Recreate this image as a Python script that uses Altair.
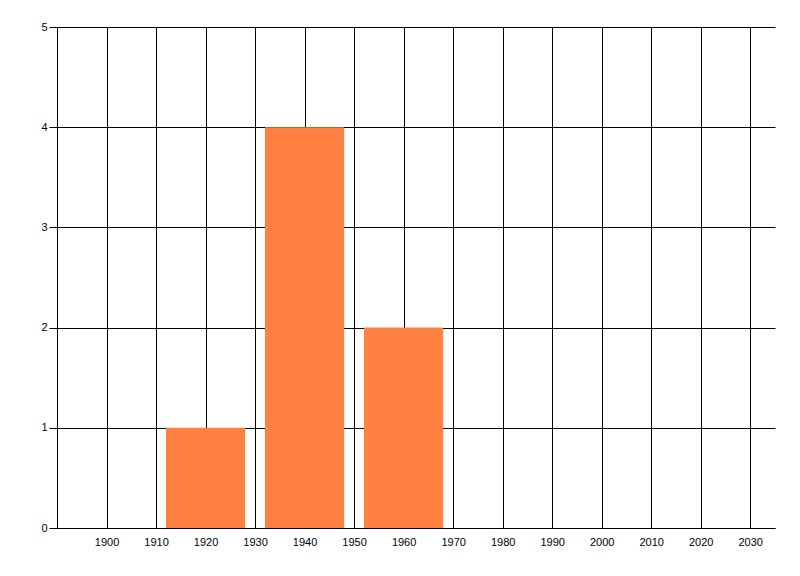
import altair as alt
import pandas as pd

years = [1920, 1940, 1960]
counts = [1, 4, 2]
x_ticks = [1900, 1910, 1920, 1930, 1940, 1950, 1960, 1970, 1980, 1990, 2000, 2010, 2020, 2030]
y_ticks = [0, 1, 2, 3, 4, 5]

df = pd.DataFrame({"year": years, "count": counts})

bars = alt.Chart(df).transform_calculate(
    start="datum.year - 8", end="datum.year + 8"
).mark_rect(color="#FF8040").encode(
    x=alt.X("start:Q", scale=alt.Scale(domain=[1890, 2035], nice=False, zero=False),
            axis=alt.Axis(values=x_ticks, format="d", title=None, ticks=False,
                          domainColor="black", gridColor="black", gridOpacity=1,
                          labelColor="black", labelFont="Liberation Sans", labelFontSize=11,
                          labelPadding=8, labelFlush=False)),
    x2="end:Q",
    y=alt.Y("count:Q", scale=alt.Scale(domain=[0, 5], nice=False),
            axis=alt.Axis(values=y_ticks, title=None, tickSize=8, tickColor="black",
                          domainColor="black", gridColor="black", gridOpacity=1,
                          labelColor="black", labelFont="Liberation Sans", labelFontSize=11,
                          labelPadding=2, labelFlush=False)),
    y2=alt.datum(0),
)

chart = bars.properties(
    width=718, height=501,
    autosize=alt.AutoSizeParams(type="none"),
    padding={"left": 49, "top": 19, "right": 10, "bottom": 30},
    background="white",
).configure_view(stroke=None)

chart.save("out.html", embed_options={"renderer": "svg", "actions": False})
